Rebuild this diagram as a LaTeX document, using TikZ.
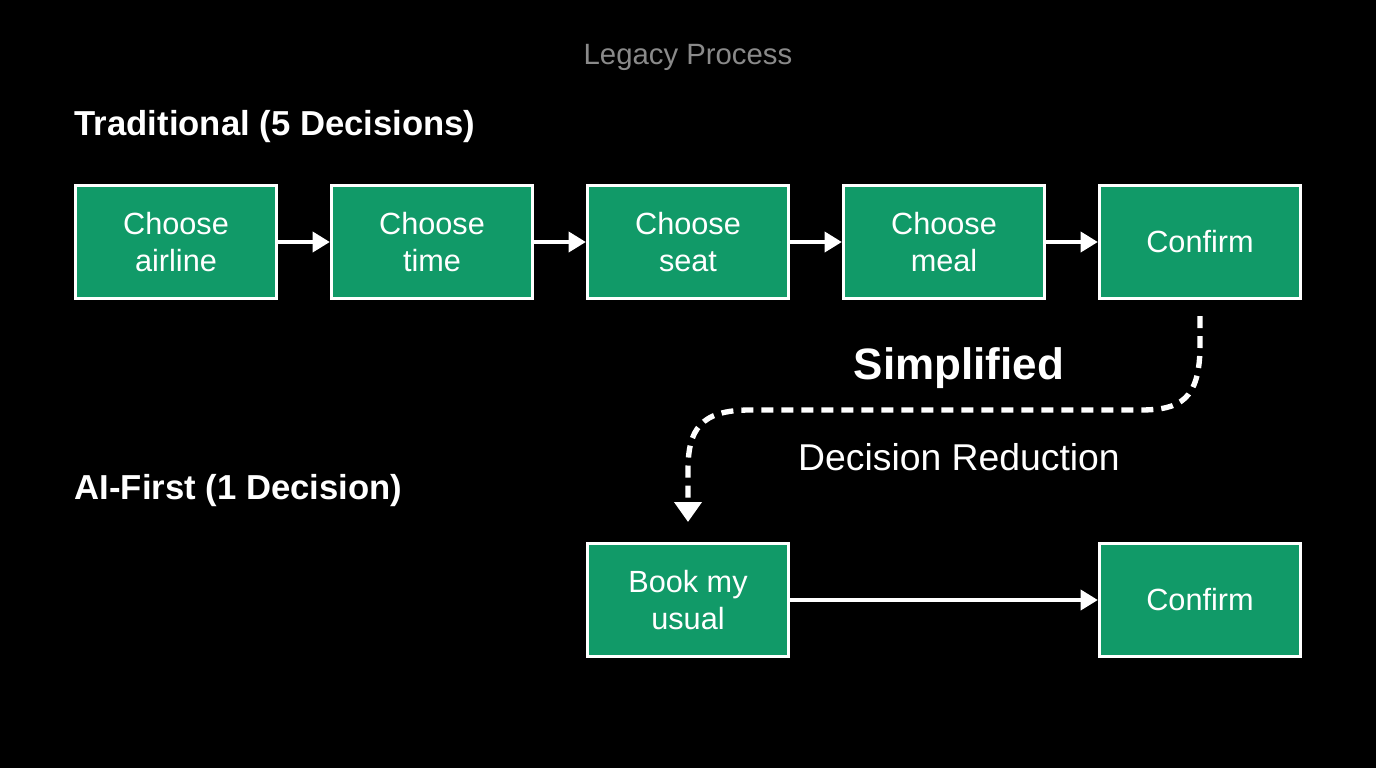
\documentclass[tikz,border=0pt]{standalone}
\usepackage{fontspec}
\setmainfont{Liberation Sans}
\usetikzlibrary{positioning,arrows.meta}
\definecolor{stepgreen}{HTML}{119A68}
\definecolor{titlegray}{HTML}{8A8A8A}
\tikzset{
  stepbox/.style={draw=white, line width=2.2pt, fill=stepgreen, minimum width=151pt,
    minimum height=85pt, align=center, text=white, font=\fontsize{23}{28}\selectfont},
  flow/.style={white, line width=3pt, -{Triangle[length=13pt,width=15pt]}},
  head/.style={text=white, font=\fontsize{26}{30}\selectfont\bfseries, anchor=west}
}
\begin{document}
\begin{tikzpicture}[x=0.75pt,y=-0.75pt]
    \fill[black] (0,0) rectangle (1376,768);
    \useasboundingbox (0,0) rectangle (1376,768);

    % Titles
    \node[text=titlegray, font=\fontsize{22}{26}\selectfont] (legacy) at (688,57) {Legacy Process};
    \node[head] (trad) at (70,127) {Traditional (5 Decisions)};
    \node[head] (aifirst) at (70,491) {AI-First (1 Decision)};

    % Traditional flow
    \node[stepbox] (airline) at (176,242) {Choose\\airline};
    \node[stepbox] (time) at (432,242) {Choose\\time};
    \node[stepbox] (seat) at (688,242) {Choose\\seat};
    \node[stepbox] (meal) at (944,242) {Choose\\meal};
    \node[stepbox] (confirmA) at (1200,242) {Confirm};
    \draw[flow] (airline) -- (time);
    \draw[flow] (time) -- (seat);
    \draw[flow] (seat) -- (meal);
    \draw[flow] (meal) -- (confirmA);

    % AI-first flow
    \node[stepbox] (usual) at (688,600) {Book my\\usual};
    \node[stepbox] (confirmB) at (1200,600) {Confirm};
    \draw[flow] (usual) -- (confirmB);

    % Simplification
    \coordinate (start) at (1200,316);
    \coordinate (stop) at (688,522);
    \draw[white, line width=4pt, dash pattern=on 9pt off 6pt, -{Triangle[length=15pt,width=20pt]}]
        (start) -- (1200,345) .. controls (1200,400) and (1180,410) .. (1140,410)
        -- (750,410) .. controls (700,410) and (688,430) .. (688,470) -- (stop);
    \node[text=white, font=\fontsize{33}{38}\selectfont\bfseries] (simpl) at (959,368) {Simplified};
    \node[text=white, font=\fontsize{28}{32}\selectfont] (reduct) at (959,457) {Decision Reduction};
\end{tikzpicture}
\end{document}
